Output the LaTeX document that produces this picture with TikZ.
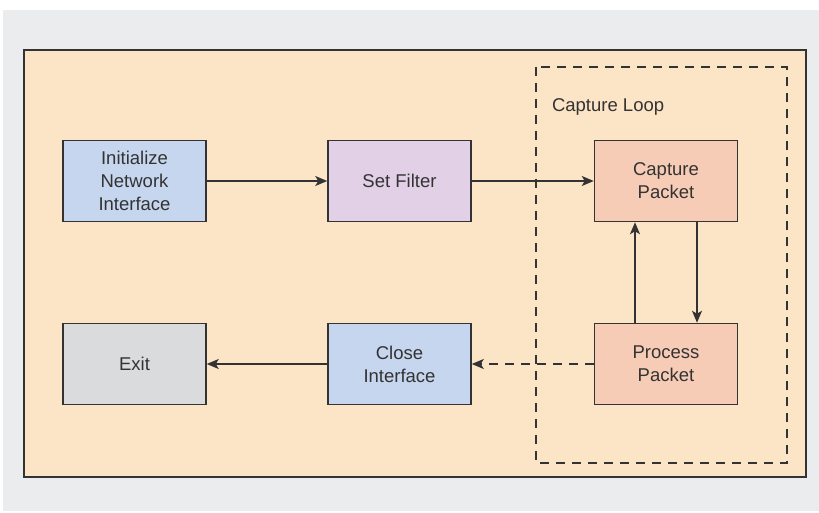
\documentclass[tikz,border=0pt]{standalone}
\usepackage{fontspec}
\setmainfont{Liberation Sans}
\usetikzlibrary{arrows.meta}

\definecolor{pagegray}{HTML}{EBECEE}
\definecolor{sandfill}{HTML}{FCE4C6}
\definecolor{bluefill}{HTML}{C6D6EE}
\definecolor{lilacfill}{HTML}{E2D0E6}
\definecolor{salmonfill}{HTML}{F6CCB6}
\definecolor{greyfill}{HTML}{DADBDD}
\definecolor{inkgray}{HTML}{333333}

\tikzset{
    stepbox/.style={draw=inkgray, line width=1.5pt, minimum width=143pt,
        minimum height=81pt, inner sep=0pt, align=center, text=inkgray,
        font=\fontsize{18.5}{23}\selectfont},
    arr/.style={draw=inkgray, line width=1.5pt, -{Stealth[length=12pt,width=10pt,inset=3pt]}},
}

\begin{document}
\begin{tikzpicture}[x=1pt,y=-1pt]

            \useasboundingbox (0,0) rectangle (819,513);
            \fill[pagegray] (3,10) rectangle (819,511);
            \draw[fill=sandfill, draw=inkgray, line width=1.5pt] (24,50) rectangle (806,477);

            %loop frame
            \draw[inkgray, line width=1.5pt, dash pattern=on 9pt off 7pt] (536,67) rectangle (787,463);
            \node[anchor=west, text=inkgray, font=\fontsize{18.5}{23}\selectfont] (looplabel) at (548.5,107) {Capture Loop};

            %steps
            \node[stepbox, fill=bluefill] (init) at (134.5,181) {Initialize\\Network\\Interface};
            \node[stepbox, fill=lilacfill] (filter) at (399.5,181) {Set Filter};
            \node[stepbox, fill=salmonfill] (capture) at (666,181) {Capture\\Packet};
            \node[stepbox, fill=salmonfill] (process) at (666,364) {Process\\Packet};
            \node[stepbox, fill=bluefill] (close) at (399.5,364) {Close\\Interface};
            \node[stepbox, fill=greyfill] (exit) at (134.5,364) {Exit};

            %arrows
            \draw[arr] (init) -- (filter);
            \draw[arr] (filter) -- (capture);
            \draw[arr] ([xshift=31pt]capture.south) -- ([xshift=31pt]process.north);
            \draw[arr] ([xshift=-31pt]process.north) -- ([xshift=-31pt]capture.south);
            \draw[arr, dash pattern=on 9pt off 7pt] (process) -- (close);
            \draw[arr] (close) -- (exit);
             \end{tikzpicture}
\end{document}
